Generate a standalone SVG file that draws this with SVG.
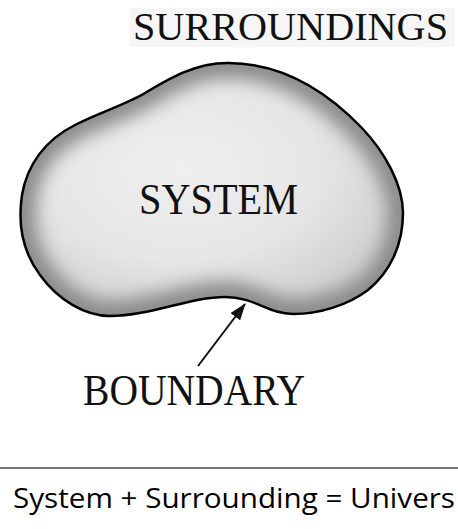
<svg xmlns="http://www.w3.org/2000/svg" width="458" height="529" viewBox="0 0 458 529">
<style>
.serif{font-family:"Liberation Serif","Times New Roman",serif;fill:#111}
.sans{font-family:"Open Sans","Noto Sans","Liberation Sans",sans-serif;fill:#000}
.conn{stroke:#111;stroke-width:2;fill:none}
</style>
<defs>
<path id="blobPath" d="M228,63 C195,63 170,78 145,93 C125,105 100,112 75,125 C45,140 27,165 22,195 C17,228 25,255 40,275 C58,300 85,316 110,316 C150,316 190,297 225,297 C255,297 268,314 293,314 C320,314 348,305 368,290 C390,272 403,245 403,213 C403,185 385,152 361,127 C330,95 285,63 228,63 Z"/>
<clipPath id="blobClip"><use href="#blobPath"/></clipPath>
<radialGradient id="blobFill" cx="0.42" cy="0.42" r="0.6">
<stop offset="0" stop-color="#efefef"/>
<stop offset="0.6" stop-color="#e6e6e6"/>
<stop offset="1" stop-color="#cfcfcf"/>
</radialGradient>
<filter id="soft" x="-20%" y="-20%" width="140%" height="140%"><feGaussianBlur stdDeviation="9"/></filter>
<marker id="arrow" markerWidth="18" markerHeight="12" refX="16" refY="6" orient="auto" markerUnits="userSpaceOnUse">
<path d="M0,0 L17,6 L0,12 Z" fill="#111"/>
</marker>
</defs>
<rect x="130" y="8" width="325" height="39" fill="#f6f6f6"/>
<g id="surroundings">
<text class="serif" x="133" y="40" font-size="41" textLength="315" lengthAdjust="spacingAndGlyphs">SURROUNDINGS</text>
</g>
<g id="system">
<use href="#blobPath" fill="url(#blobFill)"/>
<g clip-path="url(#blobClip)">
<use href="#blobPath" fill="none" stroke="#8a8a8a" stroke-width="30" filter="url(#soft)"/>
</g>
<use href="#blobPath" fill="none" stroke="#000" stroke-width="2.5"/>
<text class="serif" x="139" y="214" font-size="45" textLength="159" lengthAdjust="spacingAndGlyphs">SYSTEM</text>
</g>
<g id="connectors">
<line class="conn" x1="198" y1="366" x2="245" y2="304" marker-end="url(#arrow)"/>
</g>
<g id="boundary">
<text class="serif" x="83" y="405" font-size="45" textLength="222" lengthAdjust="spacingAndGlyphs">BOUNDARY</text>
</g>
<line x1="0" y1="468" x2="458" y2="468" stroke="#777" stroke-width="2.2"/>
<g id="equation">
<text class="sans" x="13" y="508" font-size="28" textLength="442" lengthAdjust="spacingAndGlyphs">System + Surrounding = Univers</text>
</g>
</svg>
